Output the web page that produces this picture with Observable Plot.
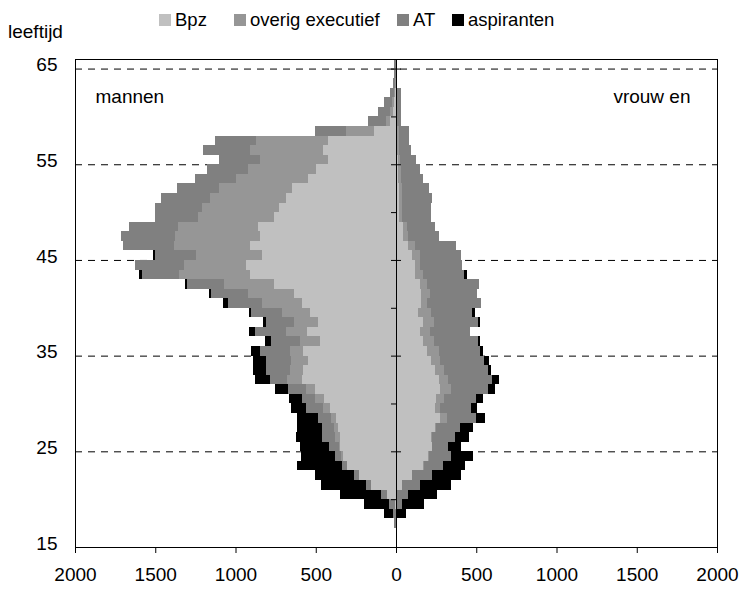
<!DOCTYPE html>
<html><head><meta charset="utf-8">
<script src="https://cdn.jsdelivr.net/npm/d3@7"></script>
<script src="https://cdn.jsdelivr.net/npm/@observablehq/plot@0.6"></script>
<style>
body{margin:0;background:#fff;font-family:"Liberation Sans",Arial,sans-serif;color:#000;}
#wrap{position:relative;width:742px;height:592px;overflow:hidden;}
#head{position:relative;height:46px;}
.lg{position:absolute;top:11px;font-size:18.5px;line-height:18px;white-space:nowrap;}
.sw{position:absolute;top:14px;width:12px;height:12px;}
#ylab{position:absolute;left:8px;top:22px;font-size:19px;line-height:19px;}
</style></head><body>
<div id="wrap"><div id="head"></div><div id="chart"></div></div>
<script>
// ---- data ----
const ages = [17,18,19,20,21,22,23,24,25,26,27,28,29,30,31,32,33,34,35,36,37,38,39,40,41,42,43,44,45,46,47,48,49,50,51,52,53,54,55,56,57,58,59,60,61,62,63,64,65];
const categories = ["Bpz", "overig executief", "AT", "aspiranten"];
const colors = ["#c0c0c0", "#969696", "#808080", "#000000"];

// mannen (men), per age 17..65
const menBpz    = [0,0,9,59,153,228,303,328,352,352,359,371,409,446,502,583,577,546,577,471,552,483,533,583,633,758,908,933,833,908,845,858,758,727,683,646,546,496,423,452,423,134,35,20,10,5,0,0,0];
const menOverig = [0,0,0,0,0,0,0,13,6,25,25,31,44,56,56,94,81,106,81,125,131,150,175,250,287,312,443,387,412,474,530,499,474,480,474,455,451,426,422,457,449,177,30,20,15,7,5,0,0];
const menAT     = [12,17,37,37,31,31,31,37,62,81,75,81,106,81,112,106,150,156,187,181,193,175,193,212,231,235,233,306,256,318,337,306,268,293,306,262,254,254,256,291,254,192,110,72,48,25,15,12,10];
const menAsp    = [0,58,156,256,281,243,281,212,181,168,156,131,94,81,81,94,81,81,56,37,37,19,12,33,12,10,17,0,12,0,0,0,0,0,0,0,0,0,0,0,0,0,0,0,0,0,0,0,0];

// vrouwen (women), per age 17..65
const womBpz    = [0,0,2,6,35,98,166,197,222,216,241,272,241,247,272,266,241,216,195,168,147,168,137,158,158,147,116,116,101,74,43,43,16,16,16,16,14,12,10,8,8,8,4,4,3,3,0,0,0];
const womOverig = [0,0,0,0,0,4,6,8,4,6,6,44,31,50,69,56,56,56,71,67,63,67,79,37,52,48,52,31,46,42,31,27,21,21,21,19,18,17,15,12,10,10,5,5,4,4,0,0,0];
const womAT     = [0,5,33,66,112,120,119,136,96,144,150,181,194,200,230,274,274,275,255,278,253,278,256,333,293,320,254,266,256,260,192,171,179,179,185,168,136,118,97,71,61,61,20,20,22,22,6,6,0];
const womAsp    = [0,60,137,181,194,181,137,137,81,87,81,56,37,43,44,44,19,31,19,13,0,13,18,0,0,0,18,0,0,0,0,0,0,0,0,0,0,0,0,0,0,0,0,0,0,0,0,0,0];

const xTicks = [-2000,-1500,-1000,-500,0,500,1000,1500,2000];
const yTicks = [15,25,35,45,55,65];
const gridAges = [25,35,45,55,65];
const minorAges = [20,30,40,50,60];

// ---- build stacked rows (men to the left, women to the right) ----
const men = [menBpz, menOverig, menAT, menAsp];
const wom = [womBpz, womOverig, womAT, womAsp];
const rows = [];
ages.forEach((age, i) => {
  let m = 0, w = 0;
  categories.forEach((cat, c) => {
    const mv = men[c][i], wv = wom[c][i];
    if (mv > 0) rows.push({cat, y1: age, y2: age + 1, x1: -m, x2: -(m + mv)});
    m += mv;
    if (wv > 0) rows.push({cat, y1: age, y2: age + 1, x1: w, x2: w + wv});
    w += wv;
  });
});

// ---- header: axis title + legend ----
const head = document.getElementById("head");
const yl = document.createElement("div"); yl.id = "ylab"; yl.textContent = "leeftijd"; head.appendChild(yl);
const legendLeft = [159, 234, 397, 452];
categories.forEach((cat, c) => {
  const sw = document.createElement("div");
  sw.className = "sw"; sw.style.left = legendLeft[c] + "px"; sw.style.background = colors[c];
  head.appendChild(sw);
  const t = document.createElement("div");
  t.className = "lg"; t.style.left = (legendLeft[c] + 16) + "px"; t.textContent = cat;
  head.appendChild(t);
});

// ---- chart ----
const chart = Plot.plot({
  width: 742,
  height: 546,
  marginTop: 13,
  marginBottom: 45,
  marginLeft: 75,
  marginRight: 25,
  style: {fontFamily: "'Liberation Sans', Arial, sans-serif", fontSize: "19px", color: "#000", background: "#fff", overflow: "visible"},
  x: {domain: [-2000, 2000]},
  y: {domain: [15, 66]},
  color: {type: "ordinal", domain: categories, range: colors},
  marks: [
    Plot.ruleY(gridAges, {stroke: "#000", strokeWidth: 1, strokeDasharray: "7,6"}),
    Plot.rect(rows, {x1: "x1", x2: "x2", y1: "y1", y2: "y2", fill: "cat", shapeRendering: "crispEdges"}),
    Plot.ruleX([0], {stroke: "#000"}),
    Plot.ruleY(yTicks, {x1: 0, x2: 0, insetLeft: -5, insetRight: -5, stroke: "#000"}),
    Plot.ruleY(minorAges, {x1: 0, x2: 0, insetLeft: -5, stroke: "#000"}),
    Plot.frame({stroke: "#000"}),
    Plot.axisX({ticks: xTicks, tickFormat: d => String(Math.abs(d)), tickSize: 6, tickPadding: 14, label: null}),
    Plot.axisY({ticks: yTicks, tickSize: 0, tickPadding: 18, dy: -4, label: null}),
    Plot.text(["mannen"], {frameAnchor: "top-left", dx: 20, dy: 30, fontSize: 19, lineAnchor: "top", letterSpacing: "0.8px"}),
    Plot.text(["vrouw en"], {frameAnchor: "top-right", dx: -27, dy: 30, fontSize: 19, lineAnchor: "top", textAnchor: "end"})
  ]
});
document.getElementById("chart").appendChild(chart);
</script>
</body></html>
